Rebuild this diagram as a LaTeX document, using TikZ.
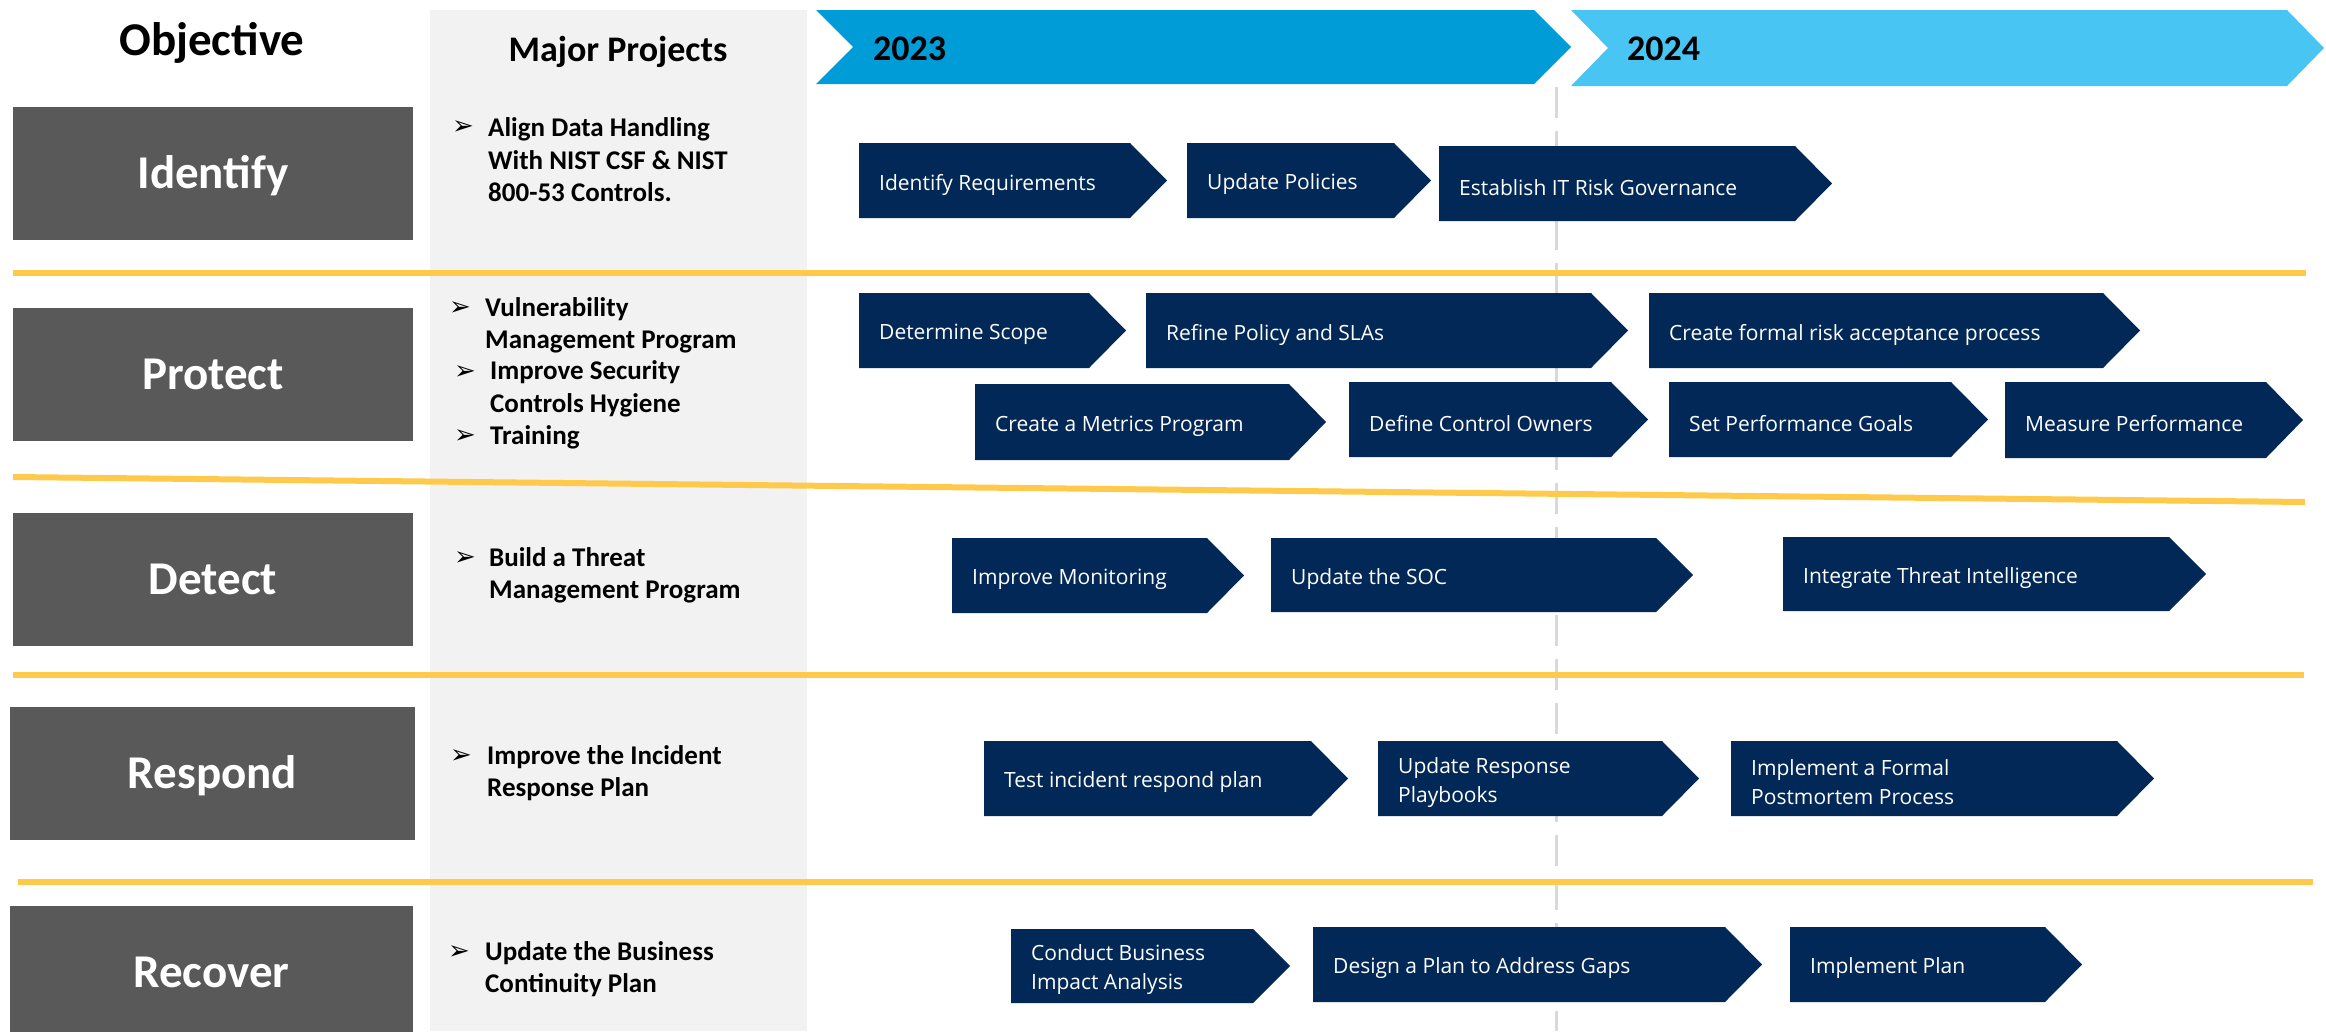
\documentclass[tikz,border=0pt]{standalone}
\usepackage{fontspec}
\setmainfont{Carlito}
\newfontfamily\taskfont{Open Sans}
\newfontfamily\arrowfont{DejaVu Sans}
\definecolor{objgray}{HTML}{595959}
\definecolor{panelgray}{HTML}{F2F2F2}
\definecolor{navy}{HTML}{012856}
\definecolor{sepyellow}{HTML}{FFCA4B}
\definecolor{yearA}{HTML}{009CD7}
\definecolor{yearB}{HTML}{49C5F3}
\definecolor{dashgray}{HTML}{D9D9D9}
\newcommand\chevtask[6]{%
  \fill[navy] (#2,#4) -- (#3,#4) -- ({#3+37},{(#4+#5)/2}) -- (#3,#5) -- (#2,#5) -- cycle;
  \node[tasktext] (#1) at ({#2+20},{(#4+#5)/2+4}) {#6};}
\begin{document}
\begin{tikzpicture}[x=1pt,y=-1pt,
  objbox/.style={fill=objgray,text=white,minimum width=400,minimum height=133,inner sep=0,text height=30pt,text depth=0pt,font=\fontsize{47}{56}\selectfont\bfseries},
  projtext/.style={font=\fontsize{27}{32.5}\selectfont\bfseries,align=left,anchor=west,inner sep=0},
  bul/.style={font=\arrowfont\fontsize{26}{26}\selectfont,inner sep=0},
  tasktext/.style={font=\taskfont\fontsize{21}{29}\selectfont,text=white,align=left,anchor=west,inner sep=0},
  sepline/.style={draw=sepyellow,line width=6},
  yeartext/.style={font=\fontsize{36}{36}\selectfont\bfseries,anchor=west,inner sep=0}]
\useasboundingbox (0,0) rectangle (2326,1031);
\fill[panelgray] (430,10) rectangle (807,1031);
% headings
\node[font=\fontsize{47}{56}\selectfont\bfseries,inner sep=0,text height=30pt,text depth=0pt] (objhead) at (212,40) {Objective};
\node[font=\fontsize{36}{40}\selectfont\bfseries,inner sep=0,text height=23pt,text depth=0pt] (projhead) at (618,50) {Major Projects};
\fill[yearA] (816,10) -- (1534,10) -- (1571,47) -- (1534,84) -- (816,84) -- (853,47) -- cycle;
\fill[yearB] (1571,10) -- (2287,10) -- (2324,48) -- (2287,86) -- (1571,86) -- (1608,48) -- cycle;
\node[yeartext] (yr23) at (873,49) {2023};
\node[yeartext] (yr24) at (1627,49) {2024};
\draw[dashgray,line width=3,dash pattern=on 31pt off 13pt] (1556,87) -- (1556,1031);
% separators
\draw[sepline] (13,273) -- (2306,273);
\draw[sepline] (13,477) -- (2305,502);
\draw[sepline] (13,675) -- (2304,675);
\draw[sepline] (18,882) -- (2313,882);
% objectives
\node[objbox] (identify) at (213,173) {Identify};
\node[objbox] (protect) at (213,374.5) {Protect};
\node[objbox] (detect) at (213,579.5) {Detect};
\node[objbox,minimum width=405] (respond) at (212.5,773.5) {Respond};
\node[objbox,minimum width=403] (recover) at (211.5,972) {Recover};
% major projects
\node[bul] (bid) at (463,128) {➢};
\node[projtext] (pid) at (488,160) {Align Data Handling\\With NIST CSF \& NIST\\800-53 Controls.};
\node[bul] (bpr1) at (460,309) {➢};
\node[projtext] (ppr1) at (485,325.5) {Vulnerability\\Management Program};
\node[bul] (bpr2) at (465,373) {➢};
\node[projtext] (ppr2) at (490,389) {Improve Security\\Controls Hygiene};
\node[bul] (bpr3) at (465,437) {➢};
\node[projtext] (ppr3) at (490,437) {Training};
\node[bul] (bde) at (465,559) {➢};
\node[projtext] (pde) at (489,575.5) {Build a Threat\\Management Program};
\node[bul] (bre) at (461,757) {➢};
\node[projtext] (pre) at (487,773) {Improve the Incident\\Response Plan};
\node[bul] (brc) at (459,953) {➢};
\node[projtext] (prc) at (485,969) {Update the Business\\Continuity Plan};
% tasks
\chevtask{idreq}{859}{1130}{143}{218}{Identify Requirements}
\chevtask{updpol}{1187}{1394}{143}{218}{Update Policies}
\chevtask{estgov}{1439}{1795}{146}{221}{Establish IT Risk Governance}
\chevtask{detscope}{859}{1089}{293}{368}{Determine Scope}
\chevtask{refpol}{1146}{1591}{293}{368}{Refine Policy and SLAs}
\chevtask{riskacc}{1649}{2103}{293}{368}{Create formal risk acceptance process}
\chevtask{metrics}{975}{1289}{384}{460}{Create a Metrics Program}
\chevtask{ctrlown}{1349}{1611}{382}{457}{Define Control Owners}
\chevtask{perfgoal}{1669}{1951}{382}{457}{Set Performance Goals}
\chevtask{measperf}{2005}{2266}{382}{458}{Measure Performance}
\chevtask{impmon}{952}{1207}{538}{613}{Improve Monitoring}
\chevtask{updsoc}{1271}{1656}{538}{612}{Update the SOC}
\chevtask{threatint}{1783}{2169}{537}{611}{Integrate Threat Intelligence}
\chevtask{testplan}{984}{1311}{741}{816}{Test incident respond plan}
\chevtask{playbook}{1378}{1662}{741}{816}{Update Response\\Playbooks}
\chevtask{postmort}{1731}{2117}{741}{816}{Implement a Formal\\Postmortem Process}
\chevtask{bia}{1011}{1253}{929}{1003}{Conduct Business\\Impact Analysis}
\chevtask{gaps}{1313}{1725}{927}{1002}{Design a Plan to Address Gaps}
\chevtask{implplan}{1790}{2045}{927}{1002}{Implement Plan}
\end{tikzpicture}
\end{document}
